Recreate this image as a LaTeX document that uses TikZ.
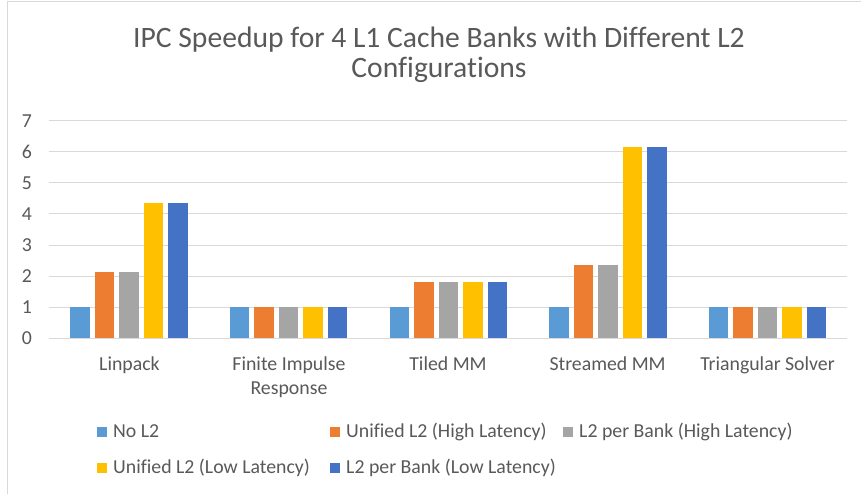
\documentclass[tikz,border=0pt]{standalone}
\usepackage{fontspec}
\setmainfont{Carlito}[Ligatures=NoCommon]
\definecolor{txt}{HTML}{595959}
\definecolor{grid}{HTML}{D9D9D9}
\definecolor{col0}{HTML}{5B9BD5}
\definecolor{col1}{HTML}{ED7D31}
\definecolor{col2}{HTML}{A5A5A5}
\definecolor{col3}{HTML}{FFC000}
\definecolor{col4}{HTML}{4472C4}
\tikzset{
  lbl/.style={text=txt, font=\fontsize{19.8}{24}\selectfont, inner sep=0pt},
  ttl/.style={text=txt, font=\fontsize{29.6}{30}\selectfont, inner sep=0pt, anchor=base},
  gridline/.style={draw=grid, line width=1pt},
  legsq/.style={inner sep=0pt, minimum size=10pt}
}
\begin{document}
\begin{tikzpicture}[x=1pt,y=-1pt]
\useasboundingbox (0,0) rectangle (861,494);
\fill[white] (0,0) rectangle (861,494);
% frame
\draw[grid, line width=1pt] (7,494) -- (7,2) -- (861,2);
% title
\node[ttl] (title) at (439,48) {IPC Speedup for 4 L1 Cache Banks with Different L2};
\node[ttl] (title2) at (439,78) {Configurations};
% grid and y labels
\foreach \k in {0,...,7} {
  \draw[gridline] (49,338-31*\k) -- (847,338-31*\k);
  \node[lbl, anchor=east] (y\k) at (32,338-31*\k) {\k};
}
% bars
\foreach \vals [count=\i from 0] in {{1,2.13,2.13,4.37,4.37},{1,1,1,1,1},{1,1.81,1.81,1.81,1.81},{1,2.36,2.36,6.15,6.15},{1,1,1,1,1}} {
  \foreach \v [count=\j from 0] in \vals {
    \pgfmathsetmacro\xl{49+159.6*(\i+0.5)-58.5+24.5*\j}
    \fill[fill=col\j] (\xl,338) rectangle ++(19.5,-31*\v);
  }
}
% category labels
\node[lbl, anchor=base] (c0) at (129.5,370) {Linpack};
\node[lbl, anchor=base] (c1) at (289,370) {Finite Impulse};
\node[lbl, anchor=base] (c1b) at (289,394) {Response};
\node[lbl, anchor=base] (c2) at (448,370) {Tiled MM};
\node[lbl, anchor=base] (c3) at (607.6,370) {Streamed MM};
\node[lbl, anchor=base] (c4) at (767.5,370) {Triangular Solver};
% legend
\node[legsq, fill=col0] (s0) at (102,432) {};
\node[lbl, anchor=base west] (l0) at (113,437) {No L2};
\node[legsq, fill=col1] (s1) at (335,432) {};
\node[lbl, anchor=base west] (l1) at (346,437) {Unified L2 (High Latency)};
\node[legsq, fill=col2] (s2) at (568,432) {};
\node[lbl, anchor=base west] (l2) at (579,437) {L2 per Bank (High Latency)};
\node[legsq, fill=col3] (s3) at (102,468) {};
\node[lbl, anchor=base west] (l3) at (113,473) {Unified L2 (Low Latency)};
\node[legsq, fill=col4] (s4) at (335,468) {};
\node[lbl, anchor=base west] (l4) at (346,473) {L2 per Bank (Low Latency)};
\end{tikzpicture}
\end{document}
